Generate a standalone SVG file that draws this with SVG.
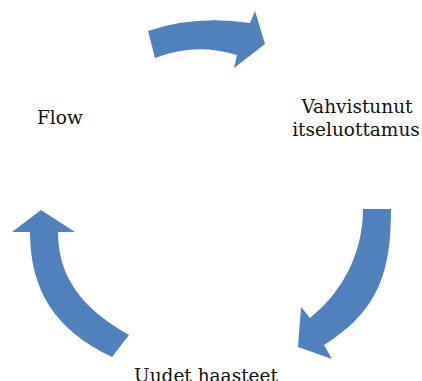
<svg xmlns="http://www.w3.org/2000/svg" width="422" height="381" viewBox="0 0 422 381">
  <style>
    .arrow { fill: #4F81BD; }
    .label { font-family: "DejaVu Serif", "Liberation Serif", serif; font-size: 18.5px; fill: #111111; }
  </style>
  <rect width="422" height="381" fill="#FFFFFF"/>
  <g id="connectors">
    <!-- top arc arrow, pointing right -->
    <path class="arrow" d="M148,31 Q195,15 250,23 L255,11 L265,44 L234,68 L237,55 Q195,42 155,58 Z"/>
    <!-- right arc arrow, pointing down-left -->
    <path class="arrow" d="M363,209 L391,209 C391,270 380,310 324,345 L332,359 L298,347 L301,307 L310,318 C345,290 363,250 363,209 Z"/>
    <!-- left arc arrow, pointing up -->
    <path class="arrow" d="M41,210 L75,232 L58,232 C58,270 75,305 129,335 L112,357 C55,330 30,290 30,232 L12,232 Z"/>
  </g>
  <g id="node-flow">
    <text class="label" x="37" y="124">Flow</text>
  </g>
  <g id="node-itseluottamus">
    <text class="label" x="357" y="112.5" text-anchor="middle">Vahvistunut</text>
    <text class="label" x="356" y="135.5" text-anchor="middle">itseluottamus</text>
  </g>
  <g id="node-haasteet">
    <text class="label" x="206" y="382" text-anchor="middle">Uudet haasteet</text>
  </g>
</svg>
